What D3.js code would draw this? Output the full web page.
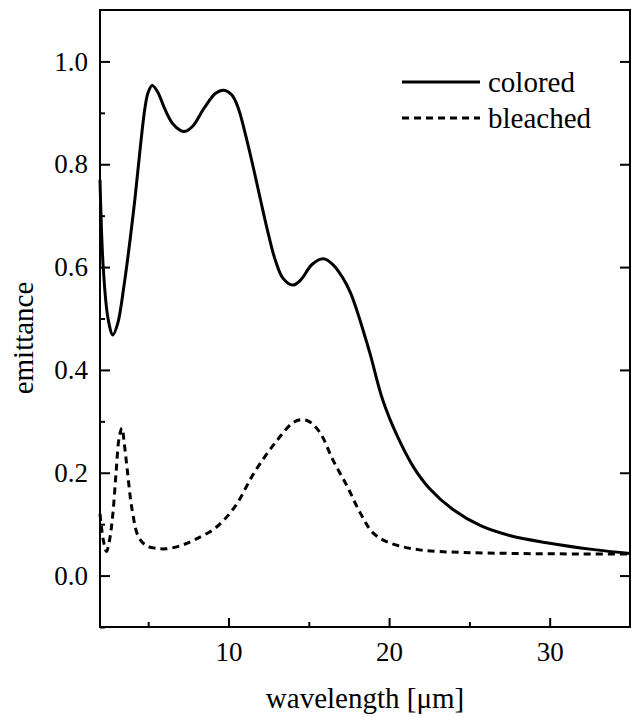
<!DOCTYPE html>
<html>
<head>
<meta charset="utf-8">
<script src="https://cdn.jsdelivr.net/npm/d3@7"></script>
<style>
  body { margin: 0; background: #fff; }
  #chart-area { width: 631px; height: 717px; }
  svg text { fill: #000; font-family: "Liberation Serif", "Times New Roman", Times, "DejaVu Serif", "Noto Serif", serif; }
  .axis line { stroke: #000; stroke-width: 2px; }
  .axis path { display: none; }
</style>
</head>
<body>
<div id="chart-area"></div>
<script>

// colored film (solid)
var coloredX = [2.0, 2.2, 2.5, 2.8, 3.1, 3.5, 3.9, 4.2, 4.5, 4.8, 5.0, 5.25, 5.6, 6.0, 6.5, 7.0, 7.3, 7.8, 8.5, 9.2, 9.7, 10.2, 10.6, 11.0, 11.5, 12.0, 12.5, 12.9, 13.4, 14.0, 14.5, 15.2, 15.9, 16.5, 17.1, 17.6, 18.0, 18.8, 19.6, 20.5, 21.5, 22.5, 24.0, 25.7, 27.5, 29.8, 32.9, 35.0];
var coloredY = [0.77, 0.60, 0.50, 0.468, 0.49, 0.565, 0.66, 0.74, 0.83, 0.91, 0.94, 0.953, 0.94, 0.91, 0.88, 0.866, 0.864, 0.875, 0.91, 0.938, 0.944, 0.935, 0.91, 0.865, 0.80, 0.73, 0.662, 0.615, 0.578, 0.565, 0.575, 0.605, 0.616, 0.605, 0.58, 0.55, 0.515, 0.433, 0.342, 0.272, 0.212, 0.170, 0.128, 0.097, 0.078, 0.064, 0.050, 0.043];

// bleached film (dashed)
var bleachedX = [2.0, 2.2, 2.4, 2.6, 2.8, 3.0, 3.2, 3.37, 3.5, 3.7, 4.0, 4.4, 4.9, 5.5, 6.1, 7.0, 7.9, 9.2, 10.4, 11.6, 12.9, 14.0, 14.5, 15.0, 15.7, 16.5, 17.4, 18.2, 19.0, 20.0, 21.9, 24.6, 28.0, 32.0, 35.0];
var bleachedY = [0.12, 0.07, 0.047, 0.07, 0.12, 0.20, 0.27, 0.287, 0.26, 0.205, 0.128, 0.075, 0.058, 0.053, 0.052, 0.058, 0.07, 0.093, 0.134, 0.20, 0.258, 0.297, 0.303, 0.30, 0.278, 0.225, 0.173, 0.122, 0.083, 0.064, 0.05, 0.045, 0.043, 0.042, 0.042];

var xMajorTicks = [10, 20, 30];
var xMinorTicks = [5, 15, 25];
var yMajorTicks = [0.0, 0.2, 0.4, 0.6, 0.8, 1.0];
var yMinorTicks = [-0.1, 0.1, 0.3, 0.5, 0.7, 0.9];

var seriesNames = ["colored", "bleached"];


EmittanceChart = function(_parentElement){
	this.parentElement = _parentElement;
	this.initVis();
}

EmittanceChart.prototype.initVis = function(){
	var vis = this;

	vis.margin = { top: 10, right: 1, bottom: 90, left: 100 };
	vis.width = 631 - vis.margin.left - vis.margin.right;
	vis.height = 717 - vis.margin.top - vis.margin.bottom;

	vis.svg = d3.select("#" + vis.parentElement).append("svg")
			.attr("width", 631)
			.attr("height", 717)
		.append("g")
			.attr("transform", "translate(" + vis.margin.left + "," + vis.margin.top + ")");

	vis.x = d3.scaleLinear().domain([2, 35]).range([0, vis.width]);
	vis.y = d3.scaleLinear().domain([-0.1, 1.1]).range([vis.height, 0]);

	// ticks point inward
	vis.svg.append("g").attr("class", "axis")
		.attr("transform", "translate(0," + vis.height + ")")
		.call(d3.axisBottom(vis.x).tickValues(xMajorTicks).tickSize(-9).tickPadding(15).tickFormat(d3.format("d")));
	vis.svg.append("g").attr("class", "axis")
		.attr("transform", "translate(0," + vis.height + ")")
		.call(d3.axisBottom(vis.x).tickValues(xMinorTicks).tickSize(-5).tickFormat(""));

	vis.svg.append("g").attr("class", "axis")
		.call(d3.axisLeft(vis.y).tickValues(yMajorTicks).tickSize(-10).tickPadding(12).tickFormat(d3.format(".1f")));
	vis.svg.append("g").attr("class", "axis")
		.call(d3.axisLeft(vis.y).tickValues(yMinorTicks).tickSize(-5).tickFormat(""));

	vis.svg.append("g").attr("class", "axis")
		.attr("transform", "translate(" + vis.width + ",0)")
		.call(d3.axisRight(vis.y).tickValues(yMajorTicks).tickSize(-10).tickFormat(""));

	vis.svg.selectAll(".axis").attr("font-size", 27);

	// frame
	vis.svg.append("rect")
		.attr("width", vis.width)
		.attr("height", vis.height)
		.attr("fill", "none")
		.attr("stroke", "#000")
		.attr("stroke-width", 2);

	vis.svg.append("text")
		.attr("x", vis.width / 2)
		.attr("y", vis.height + 81)
		.attr("text-anchor", "middle")
		.attr("font-size", 29)
		.text("wavelength [\u03bcm]");

	vis.svg.append("text")
		.attr("transform", "translate(" + (33 - vis.margin.left) + "," + (338 - vis.margin.top) + ") rotate(-90)")
		.attr("text-anchor", "middle")
		.attr("font-size", 29)
		.text("emittance");

	vis.wrangleData();
}

EmittanceChart.prototype.wrangleData = function(){
	var vis = this;
	vis.displayData = [
		{ name: seriesNames[0], dash: null, values: coloredX.map(function(d, i){ return { x: d, y: coloredY[i] }; }) },
		{ name: seriesNames[1], dash: "7,5", values: bleachedX.map(function(d, i){ return { x: d, y: bleachedY[i] }; }) }
	];
	vis.updateVis();
}

EmittanceChart.prototype.updateVis = function(){
	var vis = this;

	var line = d3.line()
		.x(function(d) { return vis.x(d.x); })
		.y(function(d) { return vis.y(d.y); })
		.curve(d3.curveCatmullRom.alpha(0.5));

	vis.svg.selectAll(".series").data(vis.displayData)
		.enter().append("path")
		.attr("class", "series")
		.attr("d", function(d) { return line(d.values); })
		.attr("fill", "none")
		.attr("stroke", "#000")
		.attr("stroke-width", 3)
		.attr("stroke-dasharray", function(d) { return d.dash; });

	// legend
	var legend = vis.svg.append("g").attr("class", "legend");
	var rows = legend.selectAll(".row").data(vis.displayData)
		.enter().append("g")
		.attr("class", "row")
		.attr("transform", function(d, i) { return "translate(" + (402 - vis.margin.left) + "," + (82 + i * 36 - vis.margin.top) + ")"; });
	rows.append("line")
		.attr("x1", 0).attr("x2", 78)
		.attr("stroke", "#000")
		.attr("stroke-width", 3)
		.attr("stroke-dasharray", function(d) { return d.dash; });
	rows.append("text")
		.attr("x", 86)
		.attr("y", 10)
		.attr("font-size", 29)
		.text(function(d) { return d.name; });
}

new EmittanceChart("chart-area");
</script>
</body>
</html>
